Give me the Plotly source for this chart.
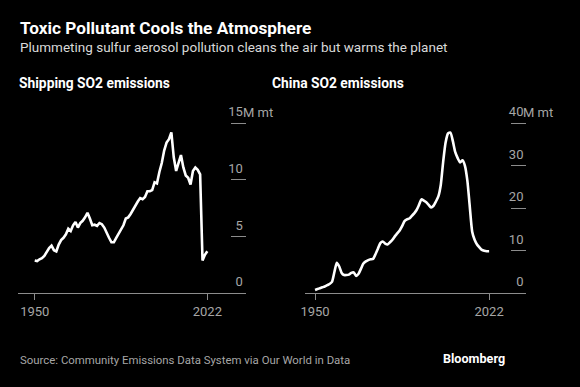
import plotly.graph_objects as go

W, H = 580, 387

ship_years = list(range(1950, 2023))
ship_mt = [2.9, 2.85, 3.0, 3.1, 3.3, 3.7, 4.0, 4.2, 3.8, 3.7,
           4.3, 4.7, 4.9, 5.2, 5.7, 5.5, 6.0, 6.3, 5.8, 6.2,
           6.4, 6.7, 7.1, 6.6, 6.0, 6.05, 5.95, 6.2, 6.1, 5.8,
           5.3, 4.9, 4.5, 4.5, 4.9, 5.3, 5.6, 6.0, 6.6, 6.7,
           7.0, 7.4, 7.8, 8.1, 8.4, 8.3, 8.5, 9.0, 9.0, 9.1,
           9.8, 9.7, 10.7, 11.5, 12.6, 13.3, 13.6, 14.2, 12.0, 10.8,
           11.5, 12.2, 11.1, 10.4, 10.2, 9.6, 10.8, 11.1, 10.9, 10.5,
           2.9, 3.4, 3.7]

china_years = list(range(1950, 2023))
china_mt = [0.8, 1.0, 1.2, 1.4, 1.6, 1.9, 2.2, 2.7, 5.0, 7.2,
            6.3, 4.8, 4.3, 4.3, 4.4, 4.8, 4.9, 4.1, 4.6, 5.8,
            7.0, 7.5, 7.8, 8.0, 8.1, 9.2, 10.5, 11.8, 12.2, 11.7,
            11.5, 12.0, 12.6, 13.4, 14.1, 14.8, 15.8, 17.0, 17.4, 17.6,
            18.2, 18.8, 19.6, 20.8, 22.1, 21.8, 21.4, 20.8, 20.2, 20.6,
            21.6, 22.8, 25.5, 31.0, 35.5, 37.6, 37.8, 35.8, 33.2, 31.8,
            30.8, 31.3, 30.0, 26.5, 20.4, 14.5, 12.6, 11.5, 10.8, 10.2,
            10.0, 9.9, 9.9]

x_ticks = [1950, 2022]
ship_yticks = [0, 5, 10, 15]
china_yticks = [0, 10, 20, 30, 40]

TITLE = "Toxic Pollutant Cools the Atmosphere"
SUBTITLE = "Plummeting sulfur aerosol pollution cleans the air but warms the planet"
PANEL_TITLES = ["Shipping SO2 emissions", "China SO2 emissions"]
UNIT = "M mt"
SOURCE = "Source: Community Emissions Data System via Our World in Data"

FONT = "Roboto"
GREY = "#a6a6a6"
LINEGREY = "#8c8c8c"

fig = go.Figure()
fig.add_trace(go.Scatter(x=ship_years, y=ship_mt, mode="lines",
                         line=dict(color="white", width=2.6),
                         xaxis="x", yaxis="y", hoverinfo="skip"))
fig.add_trace(go.Scatter(x=china_years, y=china_mt, mode="lines",
                         line=dict(color="white", width=2.6, shape="spline", smoothing=0.6),
                         xaxis="x2", yaxis="y2", hoverinfo="skip"))

# plot bottom at 293.3px, 15 / 40 at 123.3px; extend above top tick so labels fit
EXT = 30
ydom = [1 - 293.3 / H, 1 - (123.3 - EXT) / H]
ship_top = 15 + EXT * 15 / 170.0
china_top = 40 + EXT * 40 / 170.0

xcommon = dict(showgrid=False, zeroline=False, showline=True, linecolor=LINEGREY,
               linewidth=1, ticks="outside", ticklen=6, tickcolor=LINEGREY,
               tickvals=x_ticks, tickfont=dict(family=FONT, size=13, color=GREY),
               fixedrange=True)
ycommon = dict(showgrid=False, zeroline=False, showline=False, side="right",
               ticks="inside", ticklen=15, tickcolor=LINEGREY, tickwidth=1,
               ticklabelposition="inside top", ticklabelshift=-2,
               tickfont=dict(family=FONT, size=13, color=GREY), fixedrange=True)

fig.update_layout(
    width=W, height=H, margin=dict(l=0, r=0, t=0, b=0),
    paper_bgcolor="black", plot_bgcolor="black", showlegend=False,
    xaxis=dict(domain=[13 / W, 243 / W], range=[1942.97, 2038.1], anchor="y", **xcommon),
    yaxis=dict(domain=ydom, range=[0, ship_top], anchor="x", tickvals=ship_yticks, **ycommon),
    xaxis2=dict(domain=[303 / W, 526 / W], range=[1946.0, 2037.45], anchor="y2", **xcommon),
    yaxis2=dict(domain=ydom, range=[0, china_top], anchor="x2", tickvals=china_yticks, **ycommon),
)

ann = []
ann.append(dict(text=f"<b>{TITLE}</b>", x=13 / W, y=1 - 28 / H, xref="paper", yref="paper",
                xanchor="left", yanchor="middle", showarrow=False,
                font=dict(family=FONT, size=17.2, color="white")))
ann.append(dict(text=SUBTITLE, x=13 / W, y=1 - 47 / H, xref="paper", yref="paper",
                xanchor="left", yanchor="middle", showarrow=False,
                font=dict(family=FONT, size=13.5, color="#d9d9d9")))
for t, px in zip(PANEL_TITLES, [12, 267]):
    ann.append(dict(text=f"<b>{t}</b>", x=px / W, y=1 - 83 / H, xref="paper", yref="paper",
                    xanchor="left", yanchor="middle", showarrow=False,
                    font=dict(family=FONT, size=13.8, color="white")))
for xr, yr, top in [("x domain", "y", ship_yticks[-1]), ("x2 domain", "y2", china_yticks[-1])]:
    ann.append(dict(text=UNIT, x=1, y=top, xref=xr, yref=yr, xanchor="left",
                    yanchor="bottom", showarrow=False, xshift=-5, yshift=1,
                    font=dict(family=FONT, size=13, color=GREY)))
ann.append(dict(text=SOURCE, x=13 / W, y=1 - 360 / H, xref="paper", yref="paper",
                xanchor="left", yanchor="middle", showarrow=False,
                font=dict(family=FONT, size=11.4, color=GREY)))
ann.append(dict(text="<b>Bloomberg</b>", x=506 / W, y=1 - 358 / H, xref="paper", yref="paper",
                xanchor="right", yanchor="middle", showarrow=False,
                font=dict(family=FONT, size=12.6, color="white")))
fig.update_layout(annotations=ann)

fig.write_html("out.html", config={"displayModeBar": False},
               post_script="document.body.style.margin='0';document.body.style.background='black';")
